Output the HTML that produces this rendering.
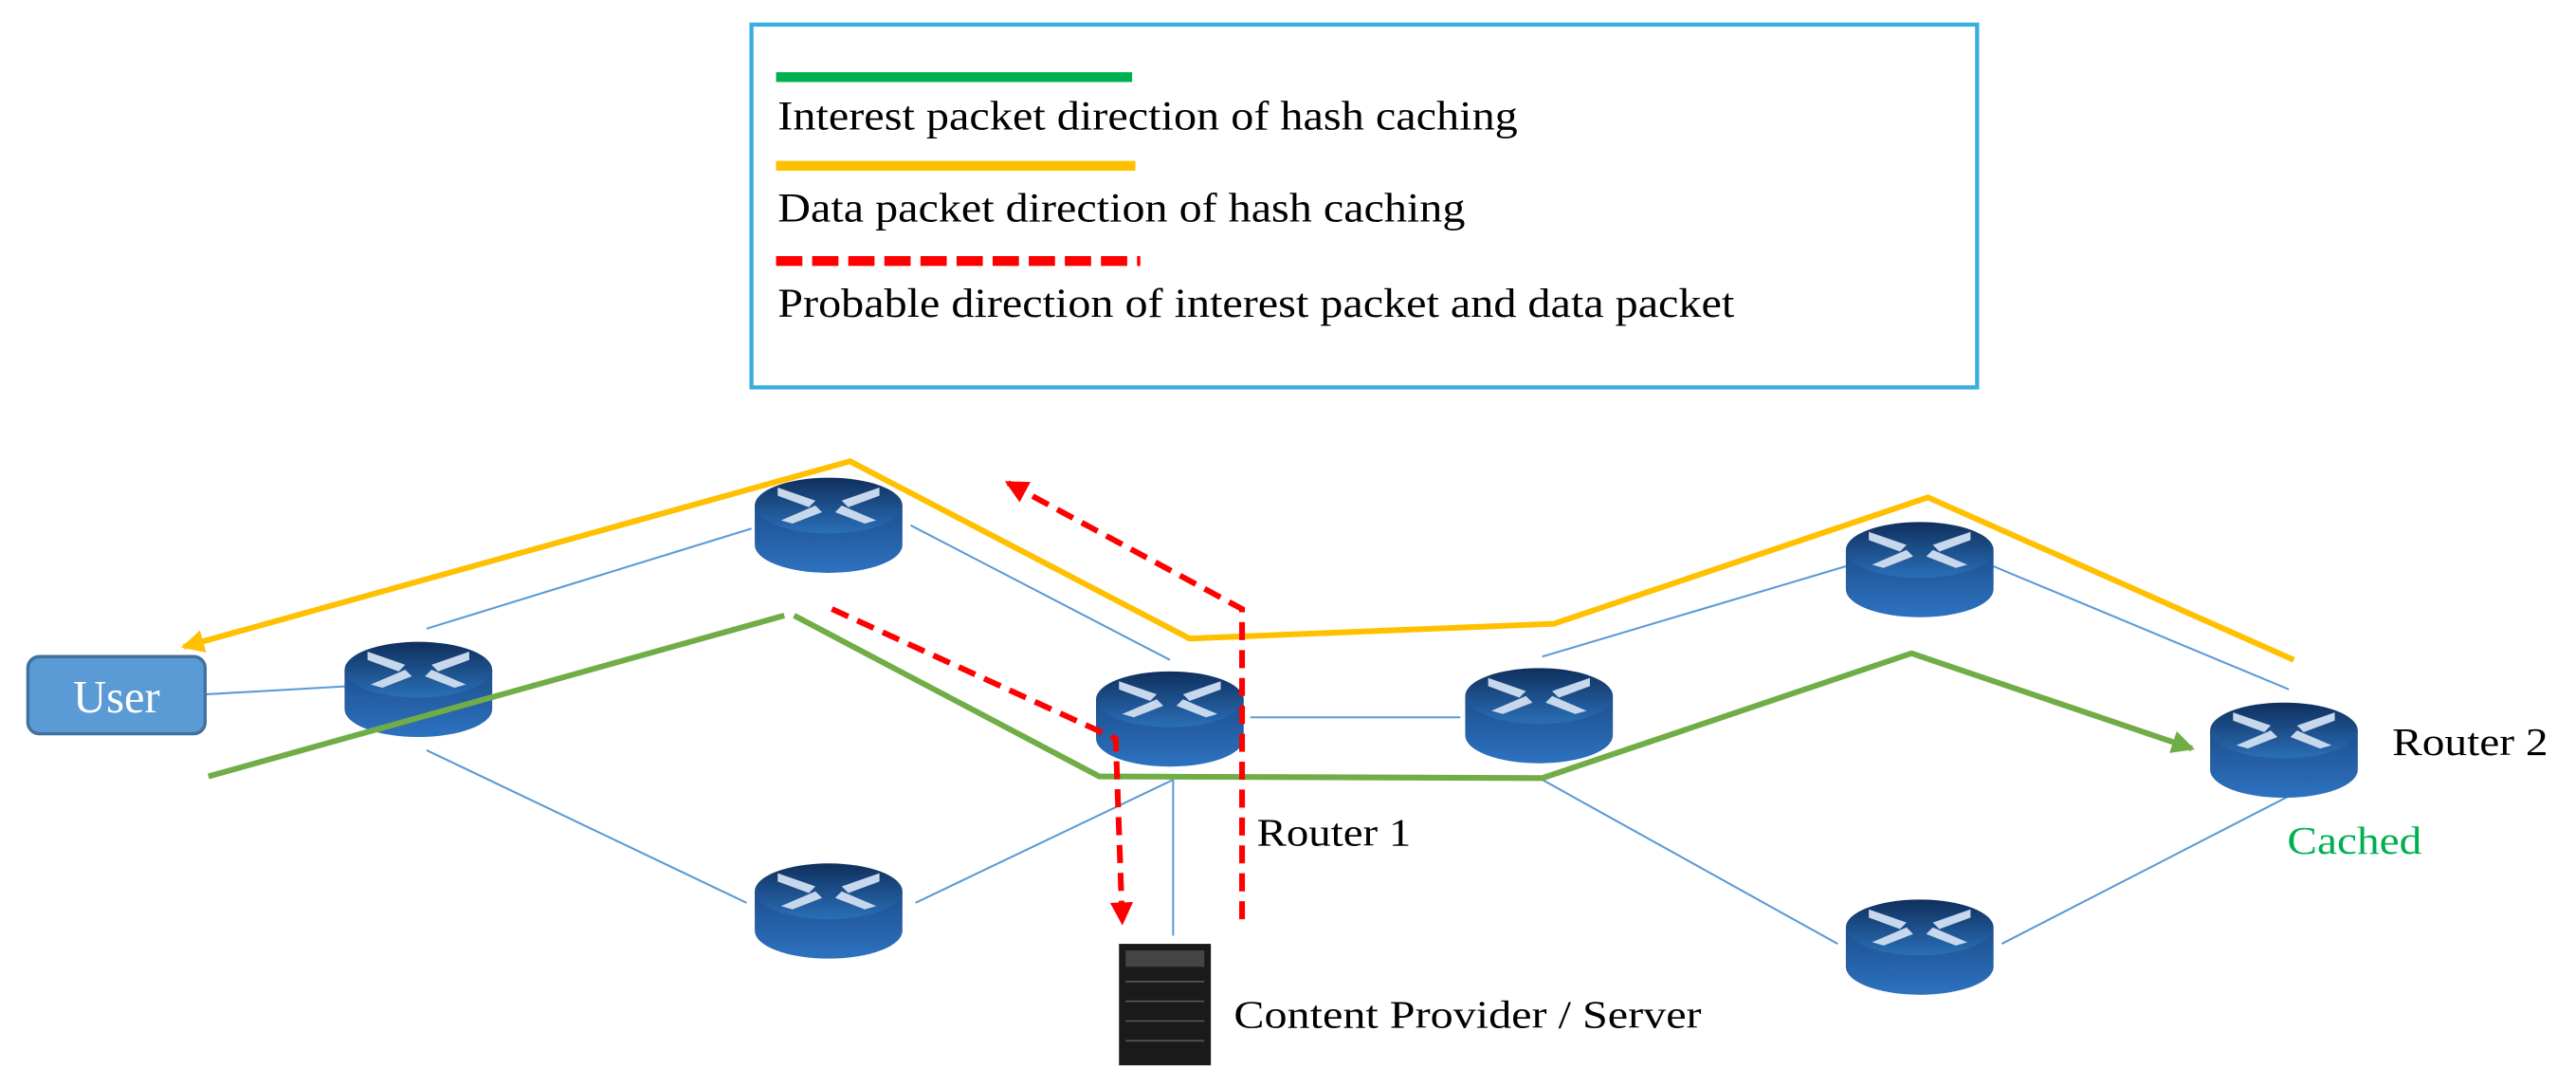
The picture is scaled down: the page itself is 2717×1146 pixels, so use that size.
<!DOCTYPE html>
<html><head><meta charset="utf-8"><style>
html,body{margin:0;padding:0;background:#fff}
svg{display:block}
text{font-family:"Liberation Serif",serif}
</style></head><body>
<svg width="2717" height="1146" viewBox="0 0 1570 662.2" preserveAspectRatio="none" xmlns="http://www.w3.org/2000/svg">
<defs>
<linearGradient id="top" x1="0" y1="0" x2="0" y2="1"><stop offset="0" stop-color="#0f2f5c"/><stop offset="1" stop-color="#2a6fb8"/></linearGradient>
<linearGradient id="body" x1="0" y1="0" x2="0" y2="1"><stop offset="0" stop-color="#1d4f8e"/><stop offset="1" stop-color="#2d72c0"/></linearGradient>
<g id="rt">
<path d="M-45,0 L-45,24 A45,17 0 0 0 45,24 L45,0 Z" fill="url(#body)"/>
<ellipse cx="0" cy="0" rx="45" ry="17" fill="url(#top)"/>
<g fill="#c8d8ec">
<polygon points="-31,-11 -8,-3 -12,1 -31,-6"/>
<polygon points="31,-11 8,-3 12,1 31,-6" />
<polygon points="-29,9 -8,0 -4,4 -22,11"/>
<polygon points="29,9 8,0 4,4 22,11"/>
</g>
</g>
<marker id="ay" markerWidth="4" markerHeight="4" refX="3.5" refY="2" orient="auto" markerUnits="strokeWidth"><path d="M0,0 L4,2 L0,4 Z" fill="#ffc000"/></marker>
<marker id="ag" markerWidth="4" markerHeight="4" refX="3.5" refY="2" orient="auto" markerUnits="strokeWidth"><path d="M0,0 L4,2 L0,4 Z" fill="#70ad47"/></marker>
<marker id="ar" markerWidth="4" markerHeight="4" refX="3.5" refY="2" orient="auto" markerUnits="strokeWidth"><path d="M0,0 L4,2 L0,4 Z" fill="#ff0000"/></marker>
</defs>

<rect x="458" y="15" width="747" height="221" fill="#fff" stroke="#3aaede" stroke-width="2.5"/>
<line x1="473" y1="47" x2="690" y2="47" stroke="#00b050" stroke-width="6"/>
<text x="474" y="79" font-size="25" textLength="451" lengthAdjust="spacingAndGlyphs">Interest packet direction of hash caching</text>
<line x1="473" y1="101" x2="692" y2="101" stroke="#ffc000" stroke-width="6"/>
<text x="474" y="135" font-size="25" textLength="419" lengthAdjust="spacingAndGlyphs">Data packet direction of hash caching</text>
<line x1="473" y1="159" x2="695" y2="159" stroke="#ff0000" stroke-width="6" stroke-dasharray="16,6"/>
<text x="474" y="193" font-size="25" textLength="583" lengthAdjust="spacingAndGlyphs">Probable direction of interest packet and data packet</text>

<g stroke="#5b9bd5" stroke-width="1.2" fill="none">
<line x1="125" y1="423" x2="213" y2="418"/>
<line x1="260" y1="383" x2="458" y2="322"/>
<line x1="260" y1="457" x2="455" y2="550"/>
<line x1="555" y1="320" x2="713" y2="402"/>
<line x1="558" y1="550" x2="715" y2="475"/>
<line x1="762" y1="437" x2="890" y2="437"/>
<line x1="715" y1="475" x2="715" y2="570"/>
<line x1="940" y1="400" x2="1125" y2="345"/>
<line x1="1215" y1="345" x2="1395" y2="420"/>
<line x1="940" y1="475" x2="1120" y2="575"/>
<line x1="1220" y1="575" x2="1395" y2="485"/>
</g>

<rect x="17" y="400" width="108" height="47" rx="7" fill="#5b9bd5" stroke="#41719c" stroke-width="2"/>
<text x="71" y="434" font-size="28" fill="#fff" text-anchor="middle">User</text>

<use href="#rt" x="255" y="408"/>
<use href="#rt" x="505" y="308"/>
<use href="#rt" x="505" y="543"/>
<use href="#rt" x="713" y="426"/>
<use href="#rt" x="938" y="424"/>
<use href="#rt" x="1170" y="335"/>
<use href="#rt" x="1170" y="565"/>
<use href="#rt" x="1392" y="445"/>

<rect x="682" y="575" width="56" height="74" fill="#1a1a1a"/>
<rect x="686" y="579" width="48" height="10" fill="#444"/>
<g stroke="#555" stroke-width="1"><line x1="686" y1="598" x2="734" y2="598"/><line x1="686" y1="610" x2="734" y2="610"/><line x1="686" y1="622" x2="734" y2="622"/><line x1="686" y1="634" x2="734" y2="634"/></g>

<polyline points="1398,402 1175,303 947,380 725,389 518,281 112,394" fill="none" stroke="#ffc000" stroke-width="3.5" marker-end="url(#ay)"/>
<line x1="127" y1="473" x2="478" y2="375" stroke="#70ad47" stroke-width="3.5"/>
<polyline points="484,375 670,473 940,474 1165,398 1336,456" fill="none" stroke="#70ad47" stroke-width="3.5" marker-end="url(#ag)"/>
<polyline points="757,560 757,371 614,294" fill="none" stroke="#ff0000" stroke-width="3.5" stroke-dasharray="11,6" marker-end="url(#ar)"/>
<polyline points="507,371 680,450 684,562" fill="none" stroke="#ff0000" stroke-width="3.5" stroke-dasharray="11,6" marker-end="url(#ar)"/>

<text x="766" y="515" font-size="24" textLength="94" lengthAdjust="spacingAndGlyphs">Router 1</text>
<text x="1458" y="460" font-size="24" textLength="95" lengthAdjust="spacingAndGlyphs">Router 2</text>
<text x="1394" y="520" font-size="24" fill="#00b050" textLength="82" lengthAdjust="spacingAndGlyphs">Cached</text>
<text x="752" y="626" font-size="24" textLength="285" lengthAdjust="spacingAndGlyphs">Content Provider / Server</text>
</svg>
</body></html>
